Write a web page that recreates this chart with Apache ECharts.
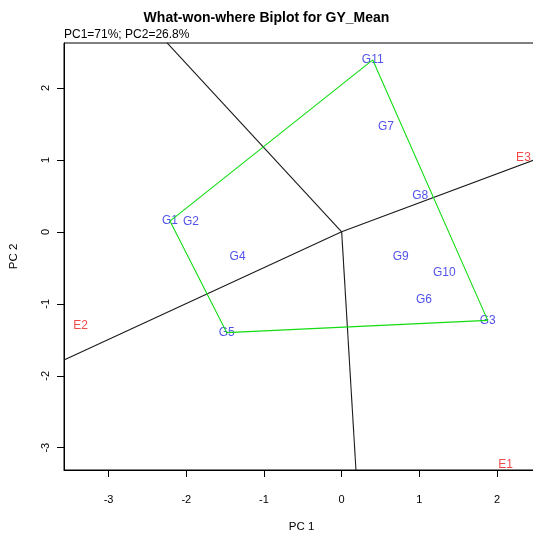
<!DOCTYPE html>
<html>
<head>
<meta charset="utf-8">
<script src="https://cdn.jsdelivr.net/npm/echarts@6/dist/echarts.min.js"></script>
<style>html,body{margin:0;padding:0;background:#fff;}#c{width:533px;height:535px;}</style>
</head>
<body>
<div id="c"></div>
<script>
// ---- data ----
const xTicks = [-3, -2, -1, 0, 1, 2];
const yTicks = [-3, -2, -1, 0, 1, 2];
const genoNames = ['G1', 'G2', 'G3', 'G4', 'G5', 'G6', 'G7', 'G8', 'G9', 'G10', 'G11'];
const genoPC1 = [-2.21, -1.94, 1.88, -1.34, -1.48, 1.06, 0.57, 1.01, 0.76, 1.32, 0.40];
const genoPC2 = [0.15, 0.14, -1.23, -0.35, -1.40, -0.94, 1.46, 0.50, -0.35, -0.57, 2.39];
const envNames = ['E1', 'E2', 'E3'];
const envPC1 = [2.11, -3.36, 2.34];
const envPC2 = [-3.23, -1.31, 1.03];
const hullOrder = ['G11', 'G3', 'G5', 'G1'];
// sector boundary rays from origin (end points in PC units)
const rayEndPC1 = [-2.25, 2.60, 0.184, -3.574];
const rayEndPC2 = [2.63, 1.05, -3.31, -1.78];

const xMin = -3.574, xMax = 2.54, yMin = -3.31, yMax = 2.625;

const chart = echarts.init(document.getElementById('c'), null, {renderer: 'canvas'});
const FONT = 'Liberation Sans, Arial, sans-serif';

const series = [];
for (let i = 0; i < rayEndPC1.length; i++) {
  series.push({
    type: 'line', symbol: 'none', clip: true, silent: true,
    lineStyle: {color: '#1a1a1a', width: 1.1},
    data: [[0, 0], [rayEndPC1[i], rayEndPC2[i]]]
  });
}
const hullData = hullOrder.map(n => { const i = genoNames.indexOf(n); return [genoPC1[i], genoPC2[i]]; });
hullData.push(hullData[0]);
series.push({
  type: 'line', symbol: 'none', clip: true, silent: true,
  lineStyle: {color: '#11dd11', width: 1.1},
  data: hullData
});
series.push({
  type: 'scatter', symbolSize: 1, itemStyle: {color: 'rgba(0,0,0,0)'},
  label: {show: true, position: 'inside', formatter: '{b}', color: '#2626e6', fontSize: 12, fontFamily: FONT},
  data: genoNames.map((n, i) => ({name: n, value: [genoPC1[i], genoPC2[i]]}))
});
series.push({
  type: 'scatter', symbolSize: 1, itemStyle: {color: 'rgba(0,0,0,0)'},
  label: {show: true, position: 'inside', formatter: '{b}', color: '#ee1c1c', fontSize: 12, fontFamily: FONT},
  data: envNames.map((n, i) => ({name: n, value: [envPC1[i], envPC2[i]]}))
});

chart.setOption({
  animation: false,
  backgroundColor: '#fff',
  title: {
    text: 'What-won-where Biplot for GY_Mean',
    left: 'center', top: 6,
    textStyle: {fontSize: 14, fontWeight: 'bold', color: '#000', fontFamily: FONT}
  },
  graphic: [{
    type: 'text', left: 64, top: 29,
    style: {text: 'PC1=71%; PC2=26.8%', fontSize: 12, fill: '#000', fontFamily: FONT}
  }],
  grid: {left: 64, top: 43, width: 475, height: 427, show: true, borderColor: '#000', borderWidth: 1,
         backgroundColor: 'transparent', containLabel: false, outerBoundsMode: 'none'},
  xAxis: {
    type: 'value', min: xMin, max: xMax,
    name: 'PC 1', nameLocation: 'middle', nameGap: 51,
    nameTextStyle: {fontSize: 11.5, color: '#000', fontFamily: FONT},
    axisLine: {show: true, onZero: false, lineStyle: {color: '#000'}},
    axisTick: {show: true, length: 7, customValues: xTicks, lineStyle: {color: '#000'}},
    axisLabel: {customValues: xTicks, margin: 24, fontSize: 11, color: '#000', fontFamily: FONT},
    splitLine: {show: false}
  },
  yAxis: {
    type: 'value', min: yMin, max: yMax,
    name: 'PC 2', nameLocation: 'middle', nameGap: 44, nameRotate: 90,
    nameTextStyle: {fontSize: 11.5, color: '#000', fontFamily: FONT},
    axisLine: {show: true, onZero: false, lineStyle: {color: '#000'}},
    axisTick: {show: true, length: 7, customValues: yTicks, lineStyle: {color: '#000'}},
    axisLabel: {customValues: yTicks, margin: 13, rotate: 90, fontSize: 11, color: '#000', fontFamily: FONT},
    splitLine: {show: false}
  },
  series: series
});
</script>
</body>
</html>
